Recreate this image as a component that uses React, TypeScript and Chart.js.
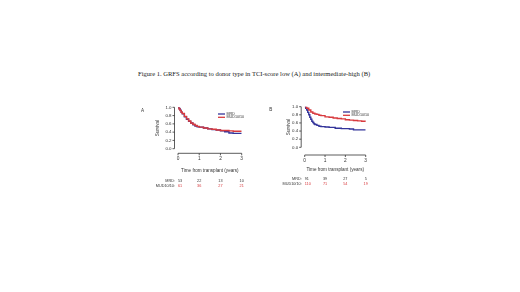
import React, { useEffect, useRef } from "react";
import { Chart, registerables } from "chart.js";

Chart.register(...registerables);

const TITLE = "Figure 1. GRFS according to donor type in TCI-score low (A) and intermediate-high (B)";
const SERIES = ["MRD", "MUD10/10"];
const COLORS = ["#33349a", "#d83a3e"];
const Y_TICKS = [0, 0.2, 0.4, 0.6, 0.8, 1.0];
const X_TICKS = [0, 1, 2, 3];
const RISK_TIMES = [0, 1, 2, 3];

// Panel A
const A_MRD_T = [0, 0.05, 0.1, 0.15, 0.2, 0.3, 0.4, 0.5, 0.6, 0.7, 0.8, 0.9, 1.0, 1.2, 1.4, 1.6, 1.8, 2.0, 2.2, 2.4, 2.6, 3.0];
const A_MRD_S = [1.0, 0.97, 0.93, 0.88, 0.84, 0.77, 0.71, 0.66, 0.62, 0.58, 0.55, 0.53, 0.52, 0.5, 0.48, 0.46, 0.45, 0.43, 0.41, 0.38, 0.37, 0.37];
const A_MUD_T = [0, 0.05, 0.1, 0.15, 0.2, 0.3, 0.4, 0.5, 0.6, 0.7, 0.8, 0.9, 1.0, 1.2, 1.4, 1.6, 1.8, 2.0, 2.2, 2.4, 2.6, 3.0];
const A_MUD_S = [1.0, 0.96, 0.92, 0.88, 0.85, 0.78, 0.72, 0.67, 0.62, 0.59, 0.56, 0.54, 0.52, 0.5, 0.48, 0.47, 0.45, 0.44, 0.44, 0.43, 0.42, 0.42];
const A_RISK_MRD = [53, 22, 13, 10];
const A_RISK_MUD = [61, 36, 27, 21];

// Panel B
const B_MRD_T = [0, 0.05, 0.1, 0.15, 0.2, 0.25, 0.3, 0.35, 0.4, 0.45, 0.5, 0.6, 0.7, 0.8, 1.0, 1.2, 1.5, 1.8, 2.0, 2.2, 2.4, 2.6, 3.0];
const B_MRD_S = [1.0, 0.96, 0.92, 0.86, 0.8, 0.74, 0.69, 0.64, 0.61, 0.58, 0.56, 0.54, 0.52, 0.51, 0.5, 0.49, 0.47, 0.46, 0.46, 0.45, 0.43, 0.43, 0.43];
const B_MUD_T = [0, 0.1, 0.2, 0.3, 0.4, 0.5, 0.6, 0.7, 0.8, 1.0, 1.2, 1.4, 1.6, 1.8, 2.0, 2.2, 2.4, 2.6, 2.8, 3.0];
const B_MUD_S = [1.0, 0.96, 0.92, 0.87, 0.84, 0.82, 0.81, 0.79, 0.78, 0.75, 0.74, 0.72, 0.71, 0.7, 0.68, 0.67, 0.66, 0.65, 0.64, 0.63];
const B_RISK_MRD = [91, 39, 27, 5];
const B_RISK_MUD = [110, 71, 54, 19];

const W = 520;
const H = 292;
const FONT = "'Liberation Sans', Arial, sans-serif";

type Panel = {
  label: string;
  area: { l: number; r: number; t: number; b: number };
  gapX: number;
  gapY: number;
  yTitleX: number;
  series: { t: number[]; s: number[] }[];
  risk: number[][];
  legend: { x: number; y: number; dy: number };
  panelLabel: { x: number; y: number };
  riskY: number[];
  titleY: number;
};

const PANELS: Panel[] = [
  {
    label: "A",
    area: { l: 178, r: 241.7, t: 107.3, b: 148.7 },
    gapX: 3.5,
    gapY: 4.6,
    yTitleX: 157.5,
    series: [
      { t: A_MRD_T, s: A_MRD_S },
      { t: A_MUD_T, s: A_MUD_S },
    ],
    risk: [A_RISK_MRD, A_RISK_MUD],
    legend: { x: 218, y: 114, dy: 3.3 },
    panelLabel: { x: 142.5, y: 110.7 },
    riskY: [180.7, 186],
    titleY: 170.7,
  },
  {
    label: "B",
    area: { l: 304.7, r: 365.7, t: 106.7, b: 147.3 },
    gapX: 3.5,
    gapY: 7.7,
    yTitleX: 288.5,
    series: [
      { t: B_MRD_T, s: B_MRD_S },
      { t: B_MUD_T, s: B_MUD_S },
    ],
    risk: [B_RISK_MRD, B_RISK_MUD],
    legend: { x: 343, y: 112, dy: 3.3 },
    panelLabel: { x: 270.7, y: 110 },
    riskY: [178.7, 184.3],
    titleY: 170,
  },
];

const kmPlugin = {
  id: "km",
  afterDraw(chart: any, _args: any, opts: any) {
    const p: Panel = opts.panel;
    if (!p) return;
    const { ctx } = chart;
    const x = chart.scales.x;
    const y = chart.scales.y;
    ctx.save();
    ctx.strokeStyle = "#333";
    ctx.fillStyle = "#333";
    ctx.lineWidth = 0.8;
    // y axis
    const ax = chart.chartArea.left - p.gapX;
    ctx.beginPath();
    ctx.moveTo(ax, y.getPixelForValue(0));
    ctx.lineTo(ax, y.getPixelForValue(1));
    ctx.stroke();
    ctx.font = `4.4px ${FONT}`;
    ctx.textAlign = "right";
    ctx.textBaseline = "middle";
    Y_TICKS.forEach((v) => {
      const py = y.getPixelForValue(v);
      ctx.beginPath();
      ctx.moveTo(ax, py);
      ctx.lineTo(ax - 2, py);
      ctx.stroke();
      ctx.fillText(v.toFixed(1), ax - 3, py);
    });
    // y title
    ctx.save();
    ctx.translate(p.yTitleX, (y.getPixelForValue(0) + y.getPixelForValue(1)) / 2);
    ctx.rotate(-Math.PI / 2);
    ctx.textAlign = "center";
    ctx.font = `4.6px ${FONT}`;
    ctx.fillText("Survival", 0, 0);
    ctx.restore();
    // x axis
    const ay = chart.chartArea.bottom + p.gapY;
    ctx.beginPath();
    ctx.moveTo(x.getPixelForValue(0), ay);
    ctx.lineTo(x.getPixelForValue(3), ay);
    ctx.stroke();
    ctx.textAlign = "center";
    ctx.textBaseline = "top";
    ctx.font = `4.8px ${FONT}`;
    X_TICKS.forEach((v) => {
      const px = x.getPixelForValue(v);
      ctx.beginPath();
      ctx.moveTo(px, ay);
      ctx.lineTo(px, ay + 2);
      ctx.stroke();
      ctx.fillText(String(v), px, ay + 3);
    });
    ctx.textBaseline = "middle";
    ctx.font = `4.6px ${FONT}`;
    ctx.fillText("Time from transplant (years)", (x.getPixelForValue(0) + x.getPixelForValue(3)) / 2, p.titleY);
    // risk table
    ctx.font = `3.8px ${FONT}`;
    SERIES.forEach((name, i) => {
      const ry = p.riskY[i];
      ctx.textAlign = "right";
      ctx.fillStyle = "#333";
      ctx.fillText(name + ":", x.getPixelForValue(0) - 3, ry);
      ctx.fillStyle = i === 0 ? "#333" : COLORS[1];
      RISK_TIMES.forEach((t, j) => {
        const px = x.getPixelForValue(t);
        ctx.textAlign = j === 0 ? "left" : "center";
        ctx.fillText(String(p.risk[i][j]), px, ry);
      });
    });
    // legend
    ctx.font = `3.7px ${FONT}`;
    ctx.textAlign = "left";
    SERIES.forEach((name, i) => {
      const ly = p.legend.y + i * p.legend.dy;
      ctx.strokeStyle = COLORS[i];
      ctx.lineWidth = 1.3;
      ctx.beginPath();
      ctx.moveTo(p.legend.x, ly);
      ctx.lineTo(p.legend.x + 7, ly);
      ctx.stroke();
      ctx.fillStyle = "#333";
      ctx.fillText(name, p.legend.x + 8.5, ly);
    });
    // panel label
    ctx.font = `4.6px ${FONT}`;
    ctx.fillStyle = "#333";
    ctx.textAlign = "center";
    ctx.fillText(p.label, p.panelLabel.x, p.panelLabel.y);
    ctx.restore();
  },
};

function KMChart({ panel }: { panel: Panel }) {
  const ref = useRef<HTMLCanvasElement | null>(null);
  useEffect(() => {
    if (!ref.current) return;
    const a = panel.area;
    const chart = new Chart(ref.current, {
      type: "line",
      data: {
        datasets: panel.series.map((s, i) => ({
          label: SERIES[i],
          data: s.t.map((t, k) => ({ x: t, y: s.s[k] })),
          borderColor: COLORS[i],
          borderWidth: 1.4,
          pointRadius: 0,
          stepped: "before" as const,
          fill: false,
          order: i === 1 ? 0 : 1,
        })),
      },
      options: {
        animation: false,
        responsive: false,
        devicePixelRatio: 1,
        events: [],
        layout: { padding: { left: a.l, right: W - a.r, top: a.t, bottom: H - a.b } },
        scales: {
          x: { type: "linear", min: 0, max: 3, display: false },
          y: { type: "linear", min: 0, max: 1, display: false },
        },
        plugins: {
          legend: { display: false },
          tooltip: { enabled: false },
          km: { panel },
        } as any,
      },
      plugins: [kmPlugin],
    });
    return () => chart.destroy();
  }, [panel]);
  return (
    <canvas
      ref={ref}
      width={W}
      height={H}
      style={{ position: "absolute", left: 0, top: 0, width: W, height: H }}
    />
  );
}

export default function App() {
  return (
    <div style={{ position: "fixed", left: 0, top: 0, width: W, height: H, background: "#fff", overflow: "hidden" }}>
      <div
        style={{
          position: "absolute",
          left: 138,
          top: 70,
          fontFamily: "'Liberation Serif', 'Times New Roman', serif",
          fontSize: 6.55,
          color: "#222",
          whiteSpace: "pre",
          lineHeight: "8px",
        }}
      >
        {TITLE}
      </div>
      {PANELS.map((p) => (
        <KMChart key={p.label} panel={p} />
      ))}
    </div>
  );
}
